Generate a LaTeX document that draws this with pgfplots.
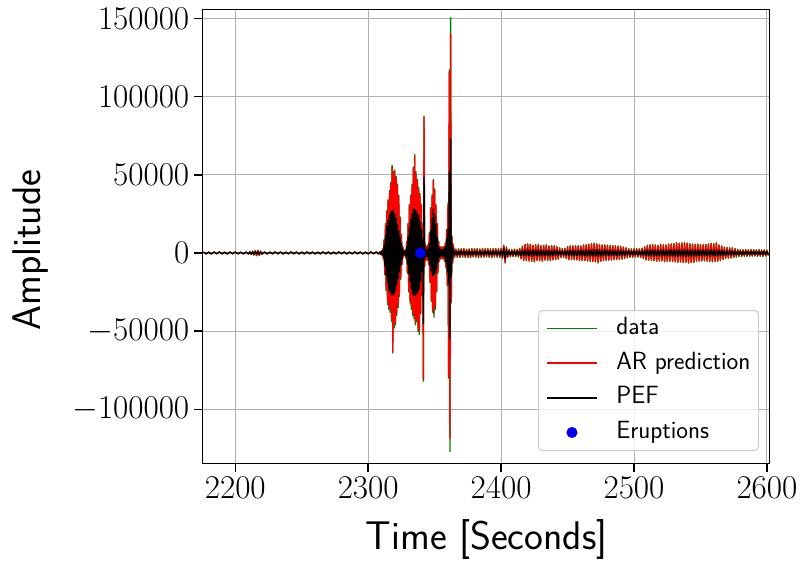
\documentclass[border=0pt]{standalone}
\usepackage{pgfplots}
\pgfplotsset{compat=1.18}
\usepackage{pgfplotstable}
\definecolor{mplgreen}{rgb}{0,0.5,0}
\definecolor{mplred}{rgb}{1,0,0}
\definecolor{gridgray}{HTML}{B0B0B0}
\definecolor{legframe}{HTML}{CCCCCC}
\pgfplotsset{
  linelegend/.style={legend image code/.code={\draw[draw=#1, line width=1.1pt, draw opacity=1] (0pt,0pt) -- (37pt,0pt); \path (51.25pt,0pt);}},
  dotlegend/.style={legend image code/.code={\draw[##1, opacity=1] plot coordinates {(18.5pt,0pt)}; \path (0pt,0pt) (51.25pt,0pt);}},
}

\pgfplotstableread{
t d a p
2176 500 400 600
2178 -500 -400 -600
2180 500 400 500
2182 -600 -500 -600
2184 500 400 600
2186 -500 -400 -500
2188 600 500 600
2190 -500 -400 -600
2192 500 400 500
2194 -600 -500 -600
2196 500 400 600
2198 -500 -400 -500
2200 600 500 600
2202 -500 -400 -600
2204 500 400 500
2206 -600 -500 -600
2208 500 400 600
2210 -600 -500 -600
2211 800 600 600
2212 -1000 -800 -600
2213 1200 1000 600
2214 -1400 -1200 -700
2215 1600 1400 700
2216 -1800 -1600 -700
2217 1800 1600 700
2218 -1600 -1400 -700
2219 1200 1000 600
2220 -900 -700 -600
2222 500 400 600
2224 -600 -500 -600
2226 500 400 500
2228 -500 -400 -600
2230 600 500 600
2232 -500 -400 -500
2234 500 400 600
2236 -600 -500 -600
2238 500 400 500
2240 -500 -400 -600
2242 600 500 600
2244 -500 -400 -500
2246 500 400 600
2248 -600 -500 -600
2250 500 400 500
2252 -500 -400 -600
2254 600 500 600
2256 -500 -400 -500
2258 500 400 600
2260 -600 -500 -600
2262 500 400 500
2264 -500 -400 -600
2266 600 500 600
2268 -500 -400 -500
2270 500 400 600
2272 -600 -500 -600
2274 500 400 500
2276 -500 -400 -600
2278 600 500 600
2280 -500 -400 -500
2282 500 400 600
2284 -600 -500 -600
2286 500 400 500
2288 -500 -400 -600
2290 600 500 600
2292 -500 -400 -500
2294 500 400 600
2296 -600 -500 -600
2298 500 400 500
2300 -500 -400 -600
2302 600 500 600
2304 -500 -400 -500
2306 600 500 600
2308 -700 -600 -600
2309.0 900 800 600
2309.5 -1000 -900 -600
2310.0 1300 1200 800
2310.5 -1600 -1500 -1000
2311.0 2700 2500 1500
2311.5 -4300 -4000 -2500
2312.0 8500 8000 5000
2312.5 -14000 -13000 -8000
2313.0 19000 18000 11000
2313.5 -24000 -22000 -14000
2314.0 27000 26000 17000
2314.5 -33000 -30000 -19000
2315.0 34000 33000 21000
2315.5 -36000 -34000 -23000
2316.0 40000 38000 24000
2316.5 -38000 -36000 -25000
2317.0 45000 44000 26000
2317.5 -44000 -42000 -27000
2318.0 56000 55000 27000
2318.5 -64000 -63000 -27000
2319.0 52000 50000 27000
2319.5 -48000 -46000 -26000
2320.0 53000 52000 25000
2320.5 -46000 -44000 -24000
2321.0 49000 48000 22000
2321.5 -40000 -38000 -20000
2322.0 44000 43000 18000
2322.5 -35000 -33000 -16000
2323.0 37000 36000 14000
2323.5 -28000 -26000 -12000
2324.0 23000 22000 10000
2324.5 -17000 -16000 -8000
2325.0 12000 11000 6000
2325.5 -7500 -7000 -4000
2326.0 4300 4000 2500
2326.5 -2700 -2500 -1500
2327.0 1600 1500 1000
2327.5 -1600 -1500 -1000
2328.0 2200 2000 1200
2328.5 -3800 -3500 -2000
2329.0 7500 7000 4000
2329.5 -13000 -12000 -7000
2330.0 19000 18000 10000
2330.5 -25000 -24000 -13000
2331.0 31000 30000 16000
2331.5 -32000 -30000 -18000
2332.0 37000 36000 21000
2332.5 -36000 -34000 -23000
2333.0 44000 42000 25000
2333.5 -40000 -38000 -26000
2334.0 55000 54000 28000
2334.5 -42000 -40000 -27000
2335.0 63000 62000 28000
2335.5 -46000 -44000 -27000
2336.0 52000 50000 27000
2336.5 -44000 -42000 -26000
2337.0 47000 46000 25000
2337.5 -50000 -48000 -25000
2338.0 42000 40000 24000
2338.5 -52000 -50000 -23000
2339.0 38000 36000 20000
2339.5 -39000 -38000 -18000
2340.0 31000 30000 15000
2340.5 -27000 -26000 -12000
2341.0 19000 18000 9000
2341.5 -82000 -80500 -45000
2342.0 87500 86800 48500
2342.5 -8500 -8000 -4000
2343.0 5500 5000 2500
2343.5 -4300 -4000 -2000
2344.0 4300 4000 2000
2344.5 -4800 -4500 -2500
2345.0 5500 5000 3000
2345.5 -7500 -7000 -4000
2346.0 13000 12000 6000
2346.5 -19000 -18000 -8000
2347.0 29000 28000 14000
2347.5 -31000 -30000 -12000
2348.0 37000 36000 22000
2348.5 -38000 -36000 -14500
2349.0 47000 46000 28000
2349.5 -41000 -39000 -14000
2350.0 41000 40000 24000
2350.5 -36000 -34000 -13000
2351.0 31000 30000 18000
2351.5 -25000 -24000 -10000
2352.0 19000 18000 10000
2352.5 -13000 -12000 -6000
2353.0 7500 7000 4000
2353.5 -5500 -5000 -3000
2354.0 4300 4000 2500
2354.5 -3800 -3500 -2000
2355.0 3800 3500 2000
2355.5 -3800 -3500 -2000
2356.0 3800 3500 2000
2356.5 -3800 -3500 -2000
2357.0 4300 4000 2500
2357.5 -5500 -5000 -3000
2358.0 6500 6000 4000
2358.5 -9500 -9000 -6000
2359.0 15000 14000 9000
2359.5 -21000 -20000 -12000
2360.0 32000 30000 15000
2360.5 -80000 -78500 -20000
2361.0 117000 115600 51700
2361.5 -127000 -118800 -55000
2362.0 150500 140000 73000
2362.5 -32000 -30000 -15000
2363.0 11000 10000 6000
2363.5 -6500 -6000 -4000
2364.0 5500 5000 3000
2365 -2800 -2400 -1200
2366 2600 2200 1100
2367 -2900 -2500 -1300
2368 2700 2300 1200
2369 -3000 -2600 -1200
2370 2800 2400 1300
2371 -2600 -2200 -1100
2372 2900 2500 1200
2373 -2800 -2400 -1300
2374 2500 2100 1100
2375 -2900 -2500 -1200
2376 2700 2300 1200
2377 -3000 -2600 -1300
2378 2800 2400 1100
2379 -2600 -2200 -1200
2380 2900 2500 1300
2381 -2700 -2300 -1200
2382 2800 2400 1100
2383 -3000 -2600 -1300
2384 2600 2200 1200
2385 -2800 -2400 -1200
2386 2900 2500 1100
2387 -2700 -2300 -1300
2388 2800 2400 1200
2389 -2600 -2200 -1200
2390 2900 2500 1300
2391 -2800 -2400 -1100
2392 2700 2300 1200
2393 -3000 -2600 -1300
2394 2800 2400 1200
2395 -2600 -2200 -1100
2396 2900 2500 1200
2397 -2700 -2300 -1300
2398 2800 2400 1200
2399 -2900 -2500 -1200
2400 3000 2600 1300
2401 -3400 -3000 -1800
2402 5000 4700 3000
2403 -6400 -6000 -3500
2404 3900 3500 2000
2405 -2900 -2500 -1300
2406 2400 2000 1100
2407 -2500 -2100 -1200
2408 2300 1900 1100
2409 -2400 -2000 -1200
2410 2500 2100 1100
2411 -2300 -1900 -1200
2412 2400 2000 1100
2413 -2600 -2200 -1200
2414 3000 2600 1300
2415 -3900 -3500 -1500
2416 4400 4000 1600
2417 -4900 -4500 -1700
2418 5600 5200 1800
2419 -5000 -4600 -1700
2420 5900 5500 1900
2421 -5200 -4800 -1800
2422 5700 5300 1700
2423 -5400 -5000 -1900
2424 5100 4700 1800
2425 -5800 -5400 -1700
2426 5300 4900 1800
2427 -4900 -4500 -1700
2428 5500 5100 1900
2429 -5100 -4700 -1800
2430 4800 4400 1700
2431 -5400 -5000 -1800
2432 5000 4600 1700
2433 -4700 -4300 -1800
2434 5200 4800 1700
2435 -4900 -4500 -1800
2436 4600 4200 1700
2437 -5100 -4700 -1800
2438 4800 4400 1600
2439 -4500 -4100 -1700
2440 4700 4300 1600
2441 -4400 -4000 -1500
2442 4200 3800 1500
2443 -4000 -3600 -1400
2444 3400 3000 1300
2445 -3000 -2600 -1200
2446 2800 2400 1200
2447 -2900 -2500 -1200
2448 3000 2600 1300
2449 -3600 -3200 -1400
2450 4200 3800 1500
2451 -4400 -4000 -1600
2452 4700 4300 1600
2453 -4300 -3900 -1500
2454 4600 4200 1600
2455 -4400 -4000 -1700
2456 4800 4400 1600
2457 -4500 -4100 -1600
2458 4700 4300 1700
2459 -4900 -4500 -1600
2460 4600 4200 1700
2461 -5000 -4600 -1800
2462 5200 4800 1700
2463 -4900 -4500 -1800
2464 5400 5000 1800
2465 -5200 -4800 -1900
2466 5700 5300 1800
2467 -5400 -5000 -1900
2468 6000 5600 2000
2469 -5600 -5200 -1900
2470 6300 5800 2000
2471 -5800 -5400 -1900
2472 5900 5500 2000
2473 -6400 -5900 -2000
2474 5600 5200 1900
2475 -5400 -5000 -1800
2476 5200 4800 1800
2477 -5000 -4600 -1700
2478 5300 4900 1800
2479 -4800 -4400 -1700
2480 5100 4700 1700
2481 -4700 -4300 -1600
2482 4900 4500 1700
2483 -4600 -4200 -1600
2484 4800 4400 1600
2485 -4400 -4000 -1600
2486 4700 4300 1500
2487 -4300 -3900 -1600
2488 4500 4100 1500
2489 -4200 -3800 -1500
2490 4400 4000 1500
2491 -4000 -3600 -1400
2492 3900 3500 1400
2493 -3600 -3200 -1300
2494 3400 3000 1300
2495 -3200 -2800 -1200
2496 2900 2500 1200
2497 -2800 -2400 -1200
2498 2700 2300 1100
2499 -2900 -2500 -1200
2500 2800 2400 1200
2501 -2600 -2200 -1100
2502 2900 2500 1200
2503 -2700 -2300 -1200
2504 2800 2400 1100
2505 -3000 -2600 -1200
2506 3200 2800 1300
2507 -3600 -3200 -1400
2508 4000 3600 1500
2509 -4600 -4200 -1600
2510 5000 4600 1700
2511 -4700 -4300 -1700
2512 5300 4900 1800
2513 -4900 -4500 -1700
2514 5500 5100 1800
2515 -5100 -4700 -1800
2516 5200 4800 1700
2517 -5400 -5000 -1800
2518 5000 4600 1800
2519 -5300 -4900 -1700
2520 5600 5200 1800
2521 -5200 -4800 -1800
2522 5400 5000 1900
2523 -5700 -5300 -1800
2524 5300 4900 1800
2525 -5500 -5100 -1900
2526 5800 5400 1900
2527 -5400 -5000 -1800
2528 5900 5500 1900
2529 -5600 -5200 -1900
2530 6100 5700 2000
2531 -5800 -5400 -1900
2532 6700 6300 2000
2533 -6000 -5600 -2000
2534 6300 5900 2000
2535 -5900 -5500 -1900
2536 6500 6100 2000
2537 -6200 -5800 -2000
2538 6800 6400 2100
2539 -6100 -5700 -2000
2540 6400 6000 2000
2541 -6600 -6200 -2000
2542 6000 5600 1900
2543 -6300 -5900 -2000
2544 5800 5400 1900
2545 -6100 -5700 -1900
2546 5600 5200 1800
2547 -5400 -5000 -1800
2548 5700 5300 1900
2549 -5300 -4900 -1800
2550 5500 5100 1800
2551 -5200 -4800 -1800
2552 5400 5000 1800
2553 -5100 -4700 -1700
2554 5600 5200 1800
2555 -5300 -4900 -1800
2556 5900 5500 1900
2557 -5600 -5200 -1900
2558 6200 5800 1900
2559 -5700 -5300 -1800
2560 6000 5600 1900
2561 -5500 -5100 -1800
2562 6600 6200 2000
2563 -5400 -5000 -1800
2564 5200 4800 1700
2565 -4900 -4500 -1700
2566 4600 4200 1600
2567 -4200 -3800 -1500
2568 3800 3400 1400
2569 -3500 -3100 -1400
2570 3600 3200 1400
2571 -3400 -3000 -1300
2572 3500 3100 1300
2573 -3300 -2900 -1300
2574 3400 3000 1300
2575 -3100 -2700 -1200
2576 2900 2500 1200
2577 -2700 -2300 -1100
2578 2400 2000 1100
2579 -2300 -1900 -1000
2580 2200 1800 1000
2581 -2300 -1900 -1000
2582 2200 1800 1000
2583 -2100 -1700 -1000
2584 2300 1900 1000
2585 -2200 -1800 -1000
2586 2100 1700 900
2587 -2200 -1800 -1000
2588 2300 1900 1000
2589 -2100 -1700 -900
2590 2200 1800 1000
2591 -2000 -1600 -900
2592 2100 1700 900
2593 -2200 -1800 -1000
2594 2300 1900 1000
2595 -2100 -1700 -900
2596 2000 1600 900
2597 -2200 -1800 -1000
2598 2100 1700 900
2599 -2000 -1600 -900
2600 1900 1500 900
2601 -1800 -1400 -800
}\sig

\begin{document}
\begin{tikzpicture}
\useasboundingbox (-152.25pt,-74.25pt) rectangle (447.75pt,347.25pt);
\begin{axis}[
  at={(0pt,0pt)}, anchor=south west,
  scale only axis, width=425.25pt, height=340.5pt,
  xmin=2175.7, xmax=2602.3, ymin=-134300, ymax=156000,
  xtick={2200,2300,2400,2500,2600},
  ytick={-100000,-50000,0,50000,100000,150000},
  scaled y ticks=false, scaled x ticks=false,
  /pgf/number format/1000 sep={},
  /pgf/number format/fixed,
  tick label style={font=\fontsize{25}{30}\selectfont},
  tick align=outside, xtick pos=bottom, ytick pos=left,
  major tick length=6.75pt,
  major tick style={line width=1.1pt, black},
  axis line style={line width=0.75pt, black},
  grid=major, grid style={gridgray, line width=0.75pt},
  xlabel={Time [Seconds]}, ylabel={Amplitude},
  label style={font=\sffamily\fontsize{30}{36}\selectfont},
  xlabel style={at={(axis description cs:0.5,-0.168)}, anchor=center},
  ylabel style={at={(axis description cs:-0.305,0.469)}, anchor=center},
  legend cell align=left,
  legend style={at={(axis description cs:1,0)}, anchor=south east,
    xshift=-8.25pt, yshift=9pt, draw=legframe, line width=0.75pt,
    rounded corners=3pt, fill=white, fill opacity=0.8, text opacity=1,
    font=\sffamily\fontsize{18.7}{22}\selectfont,
    inner xsep=6pt, inner ysep=5pt, row sep=9pt,
    nodes={inner sep=0pt, text height=13pt, text depth=4pt}},
]
\addplot[mplgreen, line width=1pt, line join=round, linelegend=mplgreen] table[x=t,y=d]{\sig};
\addlegendentry{data}
\addplot[mplred, line width=1pt, line join=round, linelegend=mplred] table[x=t,y=a]{\sig};
\addlegendentry{AR prediction}
\addplot[black, line width=1pt, line join=round, linelegend=black] table[x=t,y=p]{\sig};
\addlegendentry{PEF}
\addplot[only marks, mark=*, mark size=3.75pt, blue, mark options={fill=blue, draw=blue}, dotlegend]
  coordinates {(2339.2,0)};
\addlegendentry{Eruptions}
\end{axis}
\end{tikzpicture}
\end{document}
